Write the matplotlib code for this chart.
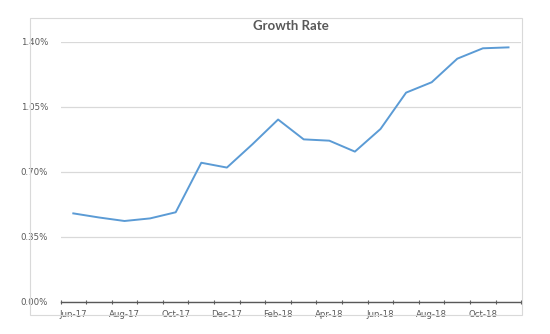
import numpy as np
import matplotlib.pyplot as plt
from matplotlib.patches import Rectangle
from matplotlib.ticker import FuncFormatter, FixedLocator

months = ['Jun-17', 'Jul-17', 'Aug-17', 'Sep-17', 'Oct-17', 'Nov-17',
          'Dec-17', 'Jan-18', 'Feb-18', 'Mar-18', 'Apr-18', 'May-18',
          'Jun-18', 'Jul-18', 'Aug-18', 'Sep-18', 'Oct-18', 'Nov-18']
growth = [0.475, 0.453, 0.434, 0.448, 0.481, 0.748,
          0.722, 0.848, 0.981, 0.874, 0.867, 0.808,
          0.930, 1.126, 1.182, 1.309, 1.365, 1.370]
y_ticks = [0.0, 0.35, 0.70, 1.05, 1.40]

W, H = 550, 334
fig = plt.figure(figsize=(W / 100, H / 100), dpi=100)
fig.patch.set_facecolor('white')

# thin frame around the chart area
fig.patches.append(Rectangle((29.5 / W, 1 - 315 / H), (522 - 29.5) / W, (315 - 18) / H,
                             transform=fig.transFigure, fill=False,
                             edgecolor='#d9d9d9', linewidth=0.8))

ax = fig.add_axes([60.5 / W, 1 - 301.5 / H, (521.3 - 60.5) / W, (301.5 - 41.8) / H])

x = np.arange(len(months))
ax.plot(x, growth, color='#5b9bd5', linewidth=1.4, solid_joinstyle='round')

ax.set_xlim(-0.5, len(months) - 0.5)
ax.set_ylim(0, 1.40)

ax.set_yticks(y_ticks)
ax.yaxis.set_major_formatter(FuncFormatter(lambda v, p: f'{v:.2f}%'))
ax.grid(axis='y', color='#d9d9d9', linewidth=0.9)
ax.set_axisbelow(True)

ax.set_xticks(x[::2])
ax.set_xticklabels(months[::2])
ax.xaxis.set_minor_locator(FixedLocator(np.arange(-0.5, len(months), 1)))
ax.tick_params(axis='x', which='major', length=0, pad=6, labelsize=6.2, labelcolor='#595959')
ax.tick_params(axis='x', which='minor', length=3.5, width=0.8, color='#595959', direction='inout')
ax.tick_params(axis='y', length=0, pad=9, labelsize=6.2, labelcolor='#595959')

for side in ['top', 'right', 'left']:
    ax.spines[side].set_visible(False)
ax.spines['bottom'].set_color('#595959')
ax.spines['bottom'].set_linewidth(1.0)

fig.text(291 / W, 1 - 26.5 / H, 'Growth Rate', ha='center', va='center',
         fontsize=9.5, fontweight='bold', family='Lato', color='#595959')

fig.savefig('out.png', dpi=100, facecolor='white')
